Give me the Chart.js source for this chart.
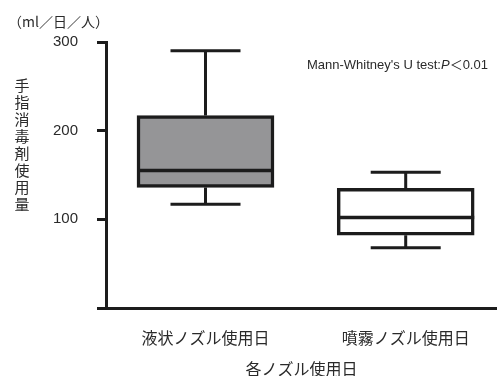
<!DOCTYPE html>
<html>
<head>
<meta charset="utf-8">
<script src="https://cdn.jsdelivr.net/npm/chart.js@4/dist/chart.umd.min.js"></script>
<style>
  html, body { margin: 0; padding: 0; background: #ffffff; }
  #wrap { width: 497px; height: 376px; }
</style>
</head>
<body>
<div id="wrap"><canvas id="chart" width="497" height="376"></canvas></div>
<script>
// Daily hand-sanitizer use per person, by nozzle type (box-and-whisker summary)
const categories   = ['液状ノズル使用日', '噴霧ノズル使用日'];
const whiskerMax   = [290, 153];
const q3Values     = [217, 135];
const medianValues = [155, 102];
const q1Values     = [136, 82];
const whiskerMin   = [117, 68];
const boxFills     = ['#959597', '#ffffff'];
const yTicks       = [0, 100, 200, 300];
const xTitle       = '各ノズル使用日';
const yTitle       = '手指消毒剤使用量';
const unitLabel    = '（ml／日／人）';
const testLabel    = ['Mann-Whitney\'s U test:', 'P', '＜0.01'];

const INK = '#1c1c1c';
const TEXT = '#2a2a2a';
const FONT = '"Liberation Sans", "Noto Sans CJK JP", sans-serif';
const CJK = '"Noto Sans CJK JP", "Liberation Sans", sans-serif';

// whiskers, caps and median lines, placed with the chart's own scales
const boxWhiskers = {
  id: 'boxWhiskers',
  afterDatasetsDraw(chart) {
    const { ctx } = chart;
    const y = chart.scales.y;
    const meta = chart.getDatasetMeta(0);
    ctx.save();
    ctx.strokeStyle = INK;
    ctx.lineCap = 'butt';
    categories.forEach((_, i) => {
      const bar = meta.data[i];
      const cx = bar.x;
      const half = bar.width / 2;
      const capHalf = 35;
      const yMax = y.getPixelForValue(whiskerMax[i]);
      const yQ3 = y.getPixelForValue(q3Values[i]);
      const yMed = y.getPixelForValue(medianValues[i]);
      const yQ1 = y.getPixelForValue(q1Values[i]);
      const yMin = y.getPixelForValue(whiskerMin[i]);
      ctx.lineWidth = 3;
      ctx.beginPath();
      ctx.moveTo(cx, yQ3); ctx.lineTo(cx, yMax);
      ctx.moveTo(cx - capHalf, yMax); ctx.lineTo(cx + capHalf, yMax);
      ctx.moveTo(cx, yQ1); ctx.lineTo(cx, yMin);
      ctx.moveTo(cx - capHalf, yMin); ctx.lineTo(cx + capHalf, yMin);
      ctx.stroke();
      ctx.lineWidth = 3.5;
      ctx.beginPath();
      ctx.moveTo(cx - half, yMed); ctx.lineTo(cx + half, yMed);
      ctx.stroke();
    });
    ctx.restore();
  }
};

// unit label, stacked vertical axis title and the test annotation
const annotations = {
  id: 'annotations',
  afterDraw(chart) {
    const { ctx } = chart;
    ctx.save();
    ctx.fillStyle = TEXT;
    ctx.textBaseline = 'middle';

    ctx.font = '14px ' + CJK;
    ctx.textAlign = 'left';
    ctx.fillText(unitLabel, 8, 22);

    ctx.font = '15px ' + CJK;
    ctx.textAlign = 'center';
    [...yTitle].forEach((ch, k) => ctx.fillText(ch, 22, 85 + k * 17));

    ctx.textAlign = 'left';
    let x = 307;
    const yT = 65;
    ctx.font = '13px ' + FONT;
    ctx.fillText(testLabel[0], x, yT);
    x += ctx.measureText(testLabel[0]).width;
    ctx.font = 'italic 13px ' + FONT;
    ctx.fillText(testLabel[1], x, yT);
    x += ctx.measureText(testLabel[1]).width;
    ctx.font = '13px ' + FONT;
    ctx.fillText(testLabel[2], x, yT);
    ctx.restore();
  }
};

new Chart(document.getElementById('chart'), {
  type: 'bar',
  data: {
    datasets: [{
      data: categories.map((c, i) => ({ x: i + 1, y: [q1Values[i], q3Values[i]] })),
      backgroundColor: boxFills,
      borderColor: INK,
      borderWidth: 3.5,
      borderSkipped: false,
      barThickness: 137
    }]
  },
  options: {
    responsive: false,
    animation: false,
    layout: { padding: { top: 42, left: 0, right: 0, bottom: 0 } },
    plugins: { legend: { display: false }, tooltip: { enabled: false } },
    scales: {
      x: {
        type: 'linear',
        offset: false,
        min: 0.503,
        max: 2.456,
        afterBuildTicks: s => { s.ticks = categories.map((c, i) => ({ value: i + 1 })); },
        afterFit: s => { s.height = 68; },
        grid: { display: false, offset: false },
        border: { display: true, color: INK, width: 3 },
        ticks: {
          autoSkip: false,
          maxRotation: 0,
          padding: 12,
          color: TEXT,
          font: { family: CJK, size: 16 },
          callback: v => categories[Math.round(v) - 1]
        },
        title: {
          display: true,
          text: xTitle,
          color: TEXT,
          font: { family: CJK, size: 16, lineHeight: 1 },
          padding: { top: 0, bottom: -1 }
        }
      },
      y: {
        min: 0,
        max: 300,
        afterBuildTicks: s => { s.ticks = yTicks.map(v => ({ value: v })); },
        afterFit: s => { s.width = 106; },
        grid: { drawOnChartArea: false, drawTicks: true, tickLength: 9, color: INK, lineWidth: 3 },
        border: { display: true, color: INK, width: 3 },
        ticks: {
          padding: 19,
          color: TEXT,
          font: { family: FONT, size: 15 },
          callback: v => (v === 0 ? '' : String(v))
        }
      }
    }
  },
  plugins: [boxWhiskers, annotations]
});
</script>
</body>
</html>
